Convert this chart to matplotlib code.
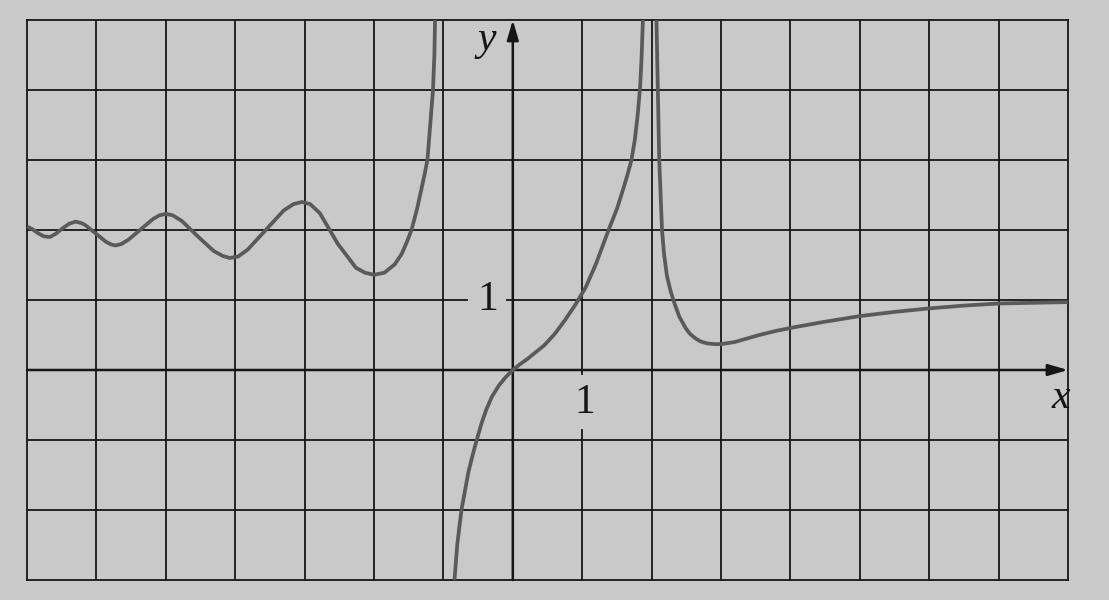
import matplotlib
matplotlib.use("Agg")
import matplotlib.pyplot as plt

# curve, three branches split by the asymptotes
left_x = [-7.0, -6.92, -6.85, -6.76, -6.67, -6.58, -6.48, -6.39, -6.30, -6.22,
          -6.16, -6.01, -5.86, -5.78, -5.72, -5.64, -5.54, -5.36, -5.18, -5.09,
          -5.0, -4.90, -4.77, -4.54, -4.31, -4.18, -4.08, -3.96, -3.82, -3.56,
          -3.30, -3.16, -3.04, -2.92, -2.78, -2.52, -2.26, -2.13, -2.0, -1.85,
          -1.70, -1.60, -1.53, -1.46, -1.38, -1.32, -1.27, -1.23, -1.19, -1.15,
          -1.13, -1.12]
left_y = [2.05, 2.01, 1.96, 1.91, 1.90, 1.95, 2.03, 2.09, 2.12, 2.10,
          2.07, 1.95, 1.83, 1.79, 1.78, 1.80, 1.86, 2.01, 2.16, 2.21,
          2.23, 2.21, 2.13, 1.91, 1.70, 1.63, 1.60, 1.62, 1.72, 2.0,
          2.28, 2.37, 2.40, 2.37, 2.24, 1.80, 1.46, 1.39, 1.36, 1.39,
          1.51, 1.66, 1.82, 2.0, 2.30, 2.57, 2.80, 3.0, 3.5, 4.0,
          4.5, 5.0]

mid_x = [-0.84, -0.80, -0.74, -0.64, -0.58, -0.52, -0.45, -0.38, -0.30, -0.20,
         -0.10, 0.0, 0.10, 0.20, 0.30, 0.45, 0.60, 0.75, 0.90, 1.05, 1.20, 1.38,
         1.50, 1.58, 1.65, 1.71, 1.76, 1.80, 1.835, 1.855, 1.875]
mid_y = [-3.0, -2.49, -2.0, -1.46, -1.22, -1.0, -0.76, -0.56, -0.38, -0.22,
         -0.10, 0.0, 0.08, 0.15, 0.23, 0.35, 0.51, 0.71, 0.93, 1.18, 1.52, 2.0,
         2.3, 2.55, 2.78, 3.0, 3.3, 3.65, 4.05, 4.45, 5.0]

right_x = [2.07, 2.08, 2.09, 2.11, 2.15, 2.18, 2.22, 2.27, 2.33, 2.40, 2.49, 2.55,
           2.62, 2.70, 2.80, 2.90, 3.0, 3.2, 3.55, 3.8, 4.05, 4.5, 5.0, 5.5,
           6.0, 6.5, 7.0, 7.5, 8.0]
right_y = [5.0, 4.5, 4.0, 3.0, 2.0, 1.65, 1.35, 1.14, 0.95, 0.76, 0.60, 0.52,
           0.46, 0.41, 0.38, 0.37, 0.37, 0.40, 0.50, 0.56, 0.61, 0.69, 0.77, 0.83,
           0.88, 0.92, 0.95, 0.96, 0.97]

x_ticks = list(range(-7, 9))
y_ticks = list(range(-3, 6))

paper = "#c9c9c9"
ink = "#161616"
curve = "#5a5a5a"

fig = plt.figure(figsize=(11.09, 6.0), dpi=100, facecolor=paper)
ax = fig.add_axes([27 / 1109, 20 / 600, 1041 / 1109, 560 / 600])
ax.set_facecolor(paper)
ax.set_xlim(-7, 8)
ax.set_ylim(-3, 5)
ax.set_xticks([])
ax.set_yticks([])
for s in ax.spines.values():
    s.set_color(ink)
    s.set_linewidth(1.3)

# grid, with gaps left for the two "1" labels
for gx in x_ticks[1:-1]:
    if gx == 0:
        continue
    if gx == 1:
        ax.plot([1, 1], [-0.06, 5], color=ink, lw=1.3, zorder=1)
        ax.plot([1, 1], [-3, -0.85], color=ink, lw=1.3, zorder=1)
    else:
        ax.plot([gx, gx], [-3, 5], color=ink, lw=1.3, zorder=1)
for gy in y_ticks[1:-1]:
    if gy == 0:
        continue
    if gy == 1:
        ax.plot([-7, -0.66], [1, 1], color=ink, lw=1.3, zorder=1)
        ax.plot([-0.08, 8], [1, 1], color=ink, lw=1.3, zorder=1)
    else:
        ax.plot([-7, 8], [gy, gy], color=ink, lw=1.3, zorder=1)

# axes with arrows
ax.annotate("", xy=(8, 0), xytext=(-7, 0),
            arrowprops=dict(arrowstyle="-|>,head_length=1.2,head_width=0.35",
                            color=ink, lw=1.8, shrinkA=0, shrinkB=0), zorder=2)
ax.annotate("", xy=(0, 5), xytext=(0, -3),
            arrowprops=dict(arrowstyle="-|>,head_length=1.2,head_width=0.35",
                            color=ink, lw=1.8, shrinkA=0, shrinkB=0), zorder=2)

for bx, by in [(left_x, left_y), (mid_x, mid_y), (right_x, right_y)]:
    ax.plot(bx, by, color=curve, lw=2.7, solid_capstyle="butt",
            solid_joinstyle="round", zorder=3)

serif = ["Liberation Serif", "DejaVu Serif"]
ax.text(-0.36, 1.0, "1", fontsize=30, family=serif, ha="center", va="center", color=ink)
ax.text(1.03, -0.47, "1", fontsize=30, family=serif, ha="center", va="center", color=ink)
ax.text(-0.38, 4.72, "y", fontsize=30, family=serif, style="italic",
        ha="center", va="center", color=ink)
ax.text(7.9, -0.4, "x", fontsize=30, family=serif, style="italic",
        ha="center", va="center", color=ink)

fig.savefig("out.png", dpi=100, facecolor=paper)
